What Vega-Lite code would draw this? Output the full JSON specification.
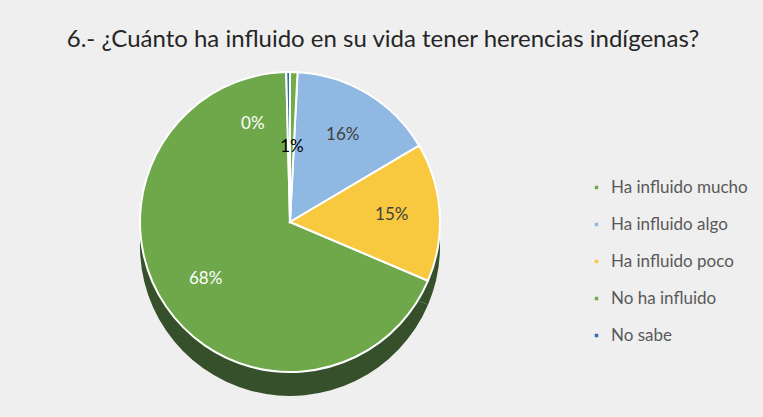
{
  "$schema": "https://vega.github.io/schema/vega-lite/v6.json",
  "autosize": {"type": "none"},
  "width": 580,
  "height": 316,
  "padding": {"top": 64, "left": 0, "right": 183, "bottom": 37},
  "background": "#efefef",
  "title": {
    "text": "6.- ¿Cuánto ha influido en su vida tener herencias indígenas?",
    "font": "Lato",
    "fontSize": 24,
    "fontWeight": "normal",
    "color": "#262626",
    "anchor": "middle",
    "dx": 93,
    "offset": 12
  },
  "data": {
    "values": [
      {"cat": "Ha influido mucho", "v": 0.682, "o": 4},
      {"cat": "Ha influido algo", "v": 0.157, "o": 2},
      {"cat": "Ha influido poco", "v": 0.149, "o": 3},
      {"cat": "No ha influido", "v": 0.008, "o": 1},
      {"cat": "No sabe", "v": 0.004, "o": 5}
    ]
  },
  "encoding": {
    "theta": {"field": "v", "type": "quantitative", "stack": true},
    "order": {"field": "o", "type": "quantitative"}
  },
  "layer": [
    {
      "mark": {"type": "arc", "outerRadius": 150, "yOffset": 24},
      "encoding": {
        "fill": {
          "field": "cat",
          "type": "nominal",
          "scale": {
            "domain": ["Ha influido mucho", "Ha influido algo", "Ha influido poco", "No ha influido", "No sabe"],
            "range": ["#35502a", "#35502a", "#35502a", "#35502a", "#35502a"]
          },
          "legend": null
        }
      }
    },
    {
      "mark": {"type": "arc", "outerRadius": 150, "stroke": "#ffffff", "strokeWidth": 2},
      "encoding": {
        "color": {
          "field": "cat",
          "type": "nominal",
          "scale": {
            "domain": ["Ha influido mucho", "Ha influido algo", "Ha influido poco", "No ha influido", "No sabe"],
            "range": ["#6fa84b", "#8fb9e2", "#f8c83f", "#70ad47", "#2f6fb5"]
          },
          "legend": {
            "title": null,
            "orient": "none",
            "legendX": 588,
            "legendY": 115,
            "symbolType": "square",
            "symbolSize": 12,
            "symbolStrokeWidth": 0,
            "labelFont": "Lato",
            "labelFontSize": 17,
            "labelColor": "#595959",
            "labelOffset": 6,
            "rowPadding": 19
          }
        }
      }
    },
    {
      "mark": {"type": "text", "radius": 102, "font": "Lato", "fontSize": 17},
      "encoding": {
        "text": {
          "condition": {"test": "datum.cat !== 'No ha influido' && datum.cat !== 'No sabe'", "field": "v", "format": ".0%"},
          "value": ""
        },
        "color": {
          "condition": {"test": "datum.cat === 'Ha influido mucho'", "value": "#ffffff"},
          "value": "#404040"
        }
      }
    },
    {
      "mark": {"type": "text", "radius": 75, "font": "Lato", "fontSize": 17, "color": "#000000"},
      "encoding": {
        "text": {
          "condition": {"test": "datum.cat === 'No ha influido'", "field": "v", "format": ".0%"},
          "value": ""
        }
      }
    },
    {
      "mark": {"type": "text", "radius": 98, "dx": -36, "font": "Lato", "fontSize": 17, "color": "#ffffff"},
      "encoding": {
        "text": {
          "condition": {"test": "datum.cat === 'No sabe'", "field": "v", "format": ".0%"},
          "value": ""
        }
      }
    }
  ],
  "resolve": {"scale": {"color": "independent"}},
  "config": {"view": {"stroke": null}}
}
